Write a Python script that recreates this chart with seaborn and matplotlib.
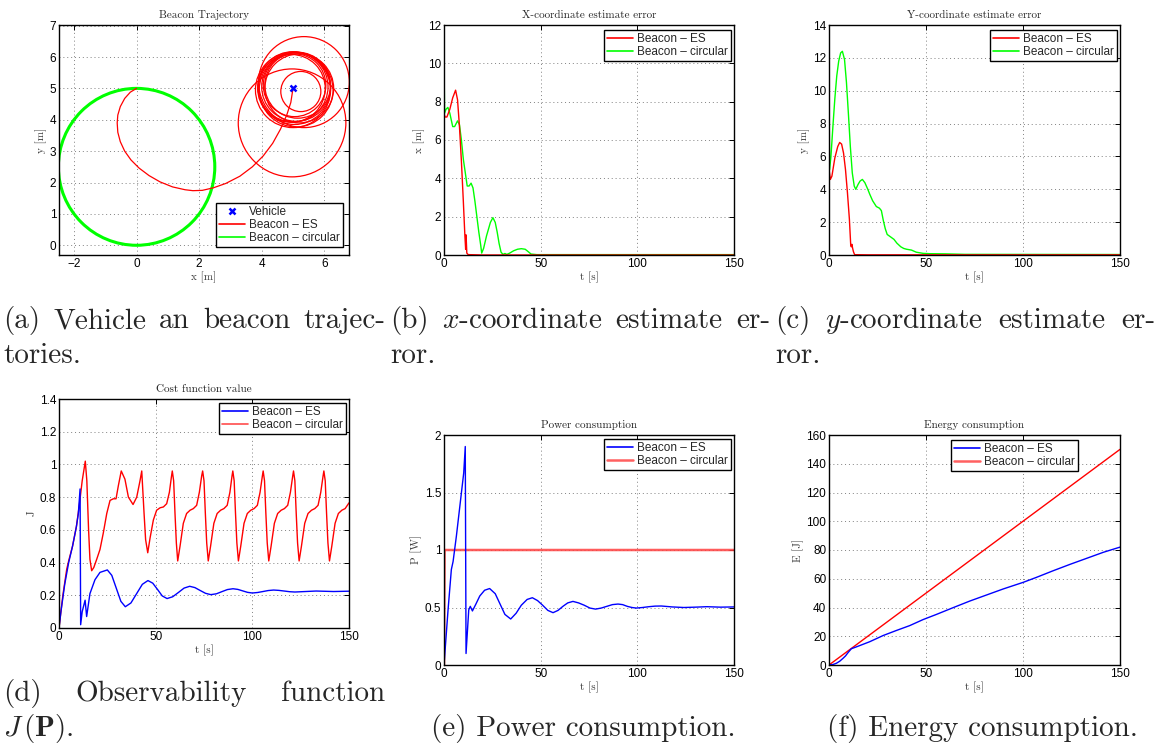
import numpy as np
import pandas as pd
import seaborn as sns
import matplotlib.pyplot as plt
from matplotlib.lines import Line2D
from matplotlib.patches import Circle

# ---------------- data ----------------
# (a) beacon trajectory
vehicle_xy = (5.0, 5.0)
circ_center = (0.0, 2.5)
circ_radius = 2.5
es_arc_x = [0.0, -0.2, -0.38, -0.52, -0.6, -0.62, -0.6, -0.52, -0.38, -0.18, 0.08, 0.4, 0.75,
            1.15, 1.55, 1.8, 2.1, 2.45, 2.85, 3.3, 3.7, 4.05, 4.35, 4.6, 4.8, 4.93, 5.0]
es_arc_y = [5.0, 4.88, 4.68, 4.42, 4.15, 3.9, 3.6, 3.3, 3.0, 2.72, 2.46, 2.22, 2.02,
            1.86, 1.77, 1.74, 1.75, 1.83, 1.97, 2.2, 2.5, 2.85, 3.25, 3.7, 4.15, 4.55, 5.0]
loop_cx = [5.35, 4.97, 5.25, 5.05, 5.1, 5.0, 5.15, 5.0, 5.1, 4.95, 5.2, 5.05]
loop_cy = [5.2, 3.9, 4.9, 5.0, 5.05, 4.95, 5.1, 5.05, 4.95, 5.0, 5.0, 5.1]
loop_r = [1.45, 1.72, 0.64, 1.15, 1.1, 1.2, 1.05, 1.12, 1.18, 1.08, 1.1, 1.0]

# (b) x-coordinate estimate error
t_x_es = [0, 0.5, 1.5, 3, 4.5, 6, 7, 8, 9, 10, 10.8, 11.2, 11.4, 11.6, 11.8, 12.5, 20, 150]
x_es = [7.4, 7.2, 7.2, 7.6, 8.2, 8.6, 8.1, 6.7, 4.9, 2.8, 1.0, 0.3, 1.05, 0.6, 0.1, 0.02, 0.0, 0.0]
t_x_circ = [0, 0.3, 1, 2, 3, 4.5, 5.5, 7, 8, 9, 10, 11, 12, 13, 14, 15, 16, 17, 18, 19,
            19.5, 20.5, 22, 24, 25.3, 26.5, 27.5, 28.5, 29.5, 30.5, 31.5, 32.5, 34, 36, 38,
            40, 42, 43.5, 45, 48, 60, 150]
x_circ = [10.2, 7.4, 7.6, 7.7, 7.4, 6.7, 6.7, 7.0, 6.8, 6.0, 5.0, 4.3, 3.6, 3.6, 3.75, 3.5,
          2.8, 2.0, 1.2, 0.5, 0.1, 0.35, 1.0, 1.7, 1.95, 1.7, 1.2, 0.6, 0.15, 0.03, 0.08,
          0.03, 0.1, 0.22, 0.3, 0.33, 0.3, 0.18, 0.05, 0.02, 0.02, 0.02]

# (c) y-coordinate estimate error
t_y_es = [0, 0.7, 1.5, 3, 4.5, 5.5, 6.5, 7.5, 8.5, 9.5, 10.5, 11.2, 11.5, 11.8, 12.2, 12.6, 13.2, 20, 150]
y_es = [5.2, 4.6, 4.8, 5.9, 6.6, 6.85, 6.75, 6.2, 5.2, 3.8, 2.2, 0.6, 0.5, 0.65, 0.4, 0.2, 0.02, 0.01, 0.01]
t_y_circ = [0, 0.3, 1, 2, 3, 4, 5, 6, 6.9, 8, 9, 10, 11, 12, 13, 13.8, 15, 16, 17.2, 18.5,
            20, 21, 22.5, 24.4, 26, 27, 28, 29, 30, 32, 33.5, 35, 37, 38.5, 40, 42.5, 45,
            48.5, 52, 60, 70, 150]
y_circ = [10.2, 5.2, 6.0, 7.8, 9.5, 10.9, 11.8, 12.3, 12.4, 11.9, 10.5, 8.6, 6.6, 5.0, 4.2,
          4.0, 4.3, 4.5, 4.6, 4.4, 4.0, 3.7, 3.3, 2.95, 2.85, 2.7, 2.1, 1.6, 1.25, 1.08, 0.95,
          0.72, 0.5, 0.4, 0.35, 0.3, 0.17, 0.1, 0.08, 0.07, 0.04, 0.03]

# (d) cost function value
t_j_es = [0, 1, 3, 5, 7, 9, 10, 10.9, 11.2, 12, 13.5, 14.3, 16, 18.6, 21.2, 25, 27.3, 29.65,
          32, 34.3, 37.2, 40.15, 43.1, 46, 48.5, 51, 53.4, 55.9, 58.8, 61.8, 64.7, 67.6,
          70.3, 73, 75.8, 78.5, 81.4, 84.2, 87.1, 90, 92.5, 95, 97.5, 100, 102.7, 105.5,
          108.2, 111, 113.7, 116.5, 119.2, 122, 133, 142, 150]
j_es = [0, 0.1, 0.27, 0.4, 0.5, 0.62, 0.7, 0.85, 0.02, 0.1, 0.17, 0.07, 0.21, 0.295, 0.34,
        0.355, 0.322, 0.2425, 0.163, 0.13, 0.153, 0.21, 0.267, 0.29, 0.274, 0.235, 0.196,
        0.18, 0.191, 0.2175, 0.244, 0.255, 0.247, 0.2295, 0.212, 0.204, 0.209, 0.222, 0.235,
        0.24, 0.236, 0.227, 0.218, 0.214, 0.217, 0.223, 0.229, 0.232, 0.23, 0.226, 0.222,
        0.22, 0.226, 0.223, 0.225]
t_j_circ = [0, 2, 4, 5, 7, 9, 10.5, 12, 13.6, 14.4, 15.3, 16, 16.9, 18, 19.5, 21.2, 22.9, 24.7,
            26.4, 28.1, 29.5, 30.7, 32.2, 34.1, 35.9, 38.3, 40.2, 41.9, 42.8, 44, 44.8,
            45.9, 47.1, 48.8, 50.5, 52.3, 54, 55.7, 57.1, 58.1, 58.6, 59.3, 60, 60.7,
            61.4, 62.6, 64.3, 66, 67.8, 69.5, 71.2, 72.6, 73.8, 74.3, 75, 75.7, 76.4,
            77.2, 78.4, 80.1, 81.8, 83.6, 85.3, 87, 88.4, 89.5, 89.9, 90.6, 91.3, 92,
            92.8, 94, 95.7, 97.4, 99.2, 100.9, 102.6, 104, 105.2, 105.6, 106.3, 107, 107.7,
            108.5, 109.7, 111.4, 113.1, 114.9, 116.6, 118.3, 119.7, 120.9, 121.3, 122, 122.7, 123.4,
            124.2, 125.4, 127.1, 128.8, 130.6, 132.3, 134, 135.4, 136.6, 137, 137.7, 138.4, 139.1,
            139.9, 141.1, 142.8, 144.5, 146.3, 148, 150]
j_circ = [0, 0.2, 0.36, 0.41, 0.5, 0.62, 0.75, 0.9, 1.02, 0.9, 0.6, 0.42, 0.35, 0.37, 0.42,
          0.48, 0.58, 0.7, 0.78, 0.79, 0.79, 0.87, 0.96, 0.91, 0.8, 0.755, 0.8, 0.9, 0.96,
          0.7, 0.54,
          0.46, 0.55, 0.66, 0.72, 0.735, 0.74, 0.76, 0.83, 0.92, 0.96, 0.9, 0.7, 0.52,
          0.41, 0.5, 0.64, 0.7, 0.72, 0.73, 0.75, 0.83, 0.93, 0.96, 0.9, 0.7, 0.52,
          0.41, 0.5, 0.64, 0.7, 0.72, 0.73, 0.75, 0.83, 0.93, 0.96, 0.9, 0.7, 0.52,
          0.41, 0.5, 0.64, 0.7, 0.72, 0.73, 0.75, 0.83, 0.93, 0.96, 0.9, 0.7, 0.52,
          0.41, 0.5, 0.64, 0.7, 0.72, 0.73, 0.75, 0.83, 0.93, 0.96, 0.9, 0.7, 0.52,
          0.41, 0.5, 0.64, 0.7, 0.72, 0.73, 0.75, 0.83, 0.93, 0.96, 0.9, 0.7, 0.52,
          0.41, 0.5, 0.64, 0.7, 0.72, 0.73, 0.765]

# (e) power consumption
t_p_es = [0, 2.1, 3.8, 4.7, 6.4, 8.4, 10.2, 11, 11.4, 12.8, 13.6, 14.7, 16.5, 18.5, 21, 23.6,
          26.5, 29, 31.5, 34.5, 37.3, 40, 43, 45.7, 48.4, 51, 53.7, 56.4, 59, 61.5, 64, 66.7,
          69.6, 72.5, 75.5, 78.4, 81.3, 84.2, 87.1, 90, 92.4, 94.8, 97.2, 99.5, 102.7, 106,
          109.2, 112.4, 118, 124, 130, 136, 143, 150]
p_es = [0, 0.48, 0.83, 0.9, 1.12, 1.41, 1.67, 1.9, 0.1, 0.48, 0.51, 0.47, 0.53, 0.6, 0.65,
        0.665, 0.62, 0.53, 0.44, 0.4, 0.45, 0.52, 0.57, 0.585, 0.56, 0.52, 0.475, 0.455,
        0.475, 0.51, 0.54, 0.553, 0.54, 0.52, 0.495, 0.486, 0.495, 0.51, 0.525, 0.53, 0.525,
        0.51, 0.5, 0.495, 0.5, 0.507, 0.512, 0.513, 0.505, 0.5, 0.503, 0.507, 0.503, 0.505]
t_p_circ = [0, 0.3, 150]
p_circ = [0, 1.0, 1.0]

# (f) energy consumption
t_e_es = [0, 2, 3.8, 5.5, 7.2, 8.5, 9.8, 11.5, 14.1, 21, 27.9, 34.7, 41.6, 48.5, 55.4, 64,
          72.6, 81.2, 89.8, 100.1, 107, 115.6, 124.2, 132.8, 141.4, 150]
e_es = [0, 0.3, 1.2, 2.6, 4.6, 6.3, 8.6, 11.3, 12.6, 16.2, 20.5, 24, 27.4, 31.6, 35.2, 39.9,
        44.5, 48.7, 52.9, 57.5, 61, 65.6, 70, 74.2, 78.4, 82]
t_e_circ = [0, 150]
e_circ = [0, 150]

lbl_es = 'Beacon \u2013 ES'
lbl_circ = 'Beacon \u2013 circular'

# ---------------- style ----------------
sns.set_style("white")
plt.rcParams['font.family'] = ['Liberation Sans', 'DejaVu Sans']
plt.rcParams['mathtext.fontset'] = 'cm'
SERIF = 'cmr10'
RED, GREEN, BLUE = '#ff0000', '#00ff00', '#0000ff'

W, H = 1158, 745
fig = plt.figure(figsize=(W / 100, H / 100), dpi=100)


def add_ax(left, top, right, bottom):
    return fig.add_axes([left / W, 1 - bottom / H, (right - left) / W, (bottom - top) / H])


def style(ax, title, xlabel, ylabel, xlim, ylim, xticks, yticks):
    ax.set_xlim(*xlim)
    ax.set_ylim(*ylim)
    ax.set_xticks(xticks)
    ax.set_yticks(yticks)
    ax.set_yticklabels([f'{v:g}' for v in yticks])
    ax.set_title(title, fontfamily=SERIF, fontsize=8, pad=5)
    ax.set_xlabel(xlabel, fontfamily=SERIF, fontsize=8, labelpad=1, color='0.25')
    ax.set_ylabel(ylabel, fontfamily=SERIF, fontsize=8, labelpad=2, color='0.25')
    ax.tick_params(direction='in', length=3.5, width=0.7, labelsize=8.5, pad=2,
                   top=True, right=True, colors='black')
    ax.grid(True, ls=(0, (1, 3)), color='0.5', lw=0.7)
    ax.set_axisbelow(True)
    for s in ax.spines.values():
        s.set_color('black')
        s.set_linewidth(1.0)


def line(ax, t, v, color, lw=1.0, **kw):
    sns.lineplot(x=t, y=v, ax=ax, color=color, lw=lw, sort=False,
                 estimator=None, legend=False, **kw)


def legend(ax, handles, loc, anchor):
    leg = ax.legend(handles=handles, loc=loc, bbox_to_anchor=anchor, borderaxespad=0,
                    frameon=True, fancybox=False, edgecolor='black', framealpha=1,
                    fontsize=8.5, handlelength=2.2, handletextpad=0.35, borderpad=0.25,
                    labelspacing=0.1)
    leg.get_frame().set_linewidth(1.0)


def h(color, label, lw=1.2):
    return Line2D([], [], color=color, lw=lw, label=label)


# (a) trajectory
ax = add_ax(59, 25, 349, 255)
ax.add_patch(Circle(circ_center, circ_radius, fill=False, ec=GREEN, lw=2.2))
line(ax, es_arc_x, es_arc_y, RED, lw=0.9)
for cx, cy, r in zip(loop_cx, loop_cy, loop_r):
    ax.add_patch(Circle((cx, cy), r, fill=False, ec=RED, lw=0.9))
ax.plot(*vehicle_xy, marker='x', color=BLUE, ms=5, mew=1.8, ls='none')
style(ax, 'Beacon Trajectory', 'x [m]', 'y [m]', (-2.48, 6.79), (-0.31, 7.02),
      [-2, 0, 2, 4, 6], list(range(0, 8)))
legend(ax, [Line2D([], [], marker='x', ls='none', color=BLUE, ms=5, mew=1.8, label='Vehicle'),
            h(RED, lbl_es), h(GREEN, lbl_circ)], 'lower right', (0.979, 0.035))

# (b) x error
ax = add_ax(444, 25, 734, 255)
line(ax, t_x_circ, x_circ, GREEN)
line(ax, t_x_es, x_es, RED)
style(ax, 'X-coordinate estimate error', 't [s]', 'x [m]', (0, 150), (0, 12),
      [0, 50, 100, 150], list(range(0, 13, 2)))
legend(ax, [h(RED, lbl_es), h(GREEN, lbl_circ)], 'upper right', (0.99, 0.978))

# (c) y error
ax = add_ax(829, 25, 1120, 255)
line(ax, t_y_circ, y_circ, GREEN)
line(ax, t_y_es, y_es, RED)
style(ax, 'Y-coordinate estimate error', 't [s]', 'y [m]', (0, 150), (0, 14),
      [0, 50, 100, 150], list(range(0, 15, 2)))
legend(ax, [h(RED, lbl_es), h(GREEN, lbl_circ)], 'upper right', (0.99, 0.978))

# (d) cost
ax = add_ax(59, 399, 349, 628)
line(ax, t_j_circ, j_circ, RED)
line(ax, t_j_es, j_es, BLUE)
style(ax, 'Cost function value', 't [s]', 'J', (0, 150), (0, 1.4),
      [0, 50, 100, 150], [0, 0.2, 0.4, 0.6, 0.8, 1, 1.2, 1.4])
legend(ax, [h(BLUE, lbl_es), h('#ff4d4d', lbl_circ)], 'upper right', (0.99, 0.983))

# (e) power
ax = add_ax(444, 435, 734, 665)
line(ax, t_p_circ, p_circ, '#ff4040', lw=1.8, alpha=0.85)
line(ax, t_p_es, p_es, BLUE)
style(ax, 'Power consumption', 't [s]', 'P [W]', (0, 150), (0, 2),
      [0, 50, 100, 150], [0, 0.5, 1, 1.5, 2])
legend(ax, [h(BLUE, lbl_es), h('#ff6060', lbl_circ, lw=1.8)], 'upper right', (0.99, 0.983))

# (f) energy
ax = add_ax(829, 435, 1120, 665)
line(ax, t_e_circ, e_circ, RED)
line(ax, t_e_es, e_es, BLUE)
style(ax, 'Energy consumption', 't [s]', 'E [J]', (0, 150), (0, 160),
      [0, 50, 100, 150], list(range(0, 161, 20)))
legend(ax, [h(BLUE, lbl_es), h('#ff6060', lbl_circ, lw=1.8)], 'upper left', (0.419, 0.978))

# ---------------- captions ----------------
CAP = 21
renderer = fig.canvas.get_renderer()


def cap_text(s, x, y, ha='left'):
    return fig.text(x / W, 1 - y / H, s, fontfamily=SERIF, fontsize=CAP, ha=ha, va='baseline')


def justify(words, x0, x1, y):
    texts = [cap_text(w, 0, y) for w in words]
    widths = [t.get_window_extent(renderer).width for t in texts]
    gap = (x1 - x0 - sum(widths)) / (len(words) - 1)
    x = x0
    for t, w in zip(texts, widths):
        t.set_x(x / W)
        x += w + gap


justify(['(a)', 'Vehicle', 'an', 'beacon', 'trajec-'], 3, 385, 328)
justify(['(b)', '$x$-coordinate', 'estimate', 'er-'], 390, 770, 328)
justify(['(c)', '$y$-coordinate', 'estimate', 'er-'], 775, 1155, 328)
cap_text('tories.', 3, 363)
cap_text('ror.', 390, 363)
cap_text('ror.', 775, 363)
justify(['(d)', 'Observability', 'function'], 3, 385, 701)
cap_text(r'$J\,(\mathbf{P})$.', 3, 736)
cap_text('(e) Power consumption.', 583, 736, ha='center')
cap_text('(f) Energy consumption.', 982, 736, ha='center')

fig.savefig('out.png', dpi=100)
